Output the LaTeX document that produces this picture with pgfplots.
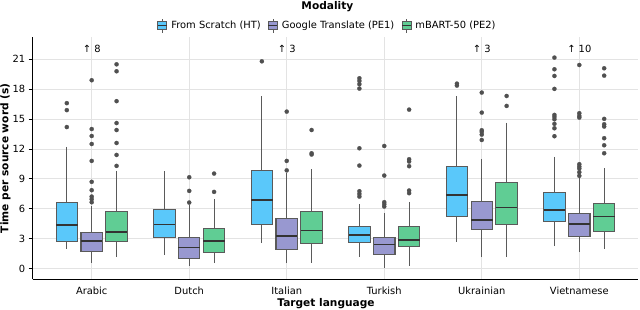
\documentclass[border=0pt]{standalone}
\usepackage{pgfplots}
\pgfplotsset{compat=1.18}
\usepgfplotslibrary{statistics}
\usepackage{fontspec}
\setmainfont{DejaVu Sans}
\definecolor{htcol}{HTML}{5AC8FA}
\definecolor{peone}{HTML}{9898D0}
\definecolor{petwo}{HTML}{60CD94}
\definecolor{edgec}{HTML}{5A5A5A}
\definecolor{medc}{HTML}{333333}
\definecolor{outc}{HTML}{505050}
\definecolor{gridc}{HTML}{E3E3E3}
\newcommand{\tickfont}{\fontsize{9.9}{11}\selectfont}
\newcommand{\labfont}{\fontsize{10.6}{12}\selectfont\bfseries}
\pgfplotsset{
  bx/.style={boxplot/draw direction=y, boxplot/box extend=0.22, boxplot/whisker extend=0,
    draw=edgec, line width=1.1pt, solid, mark=*, mark size=2.1pt,
    mark options={draw=outc, fill=outc, line width=0.2pt},
    boxplot/every median/.style={draw=medc, line width=1.5pt}},
  ht/.style={bx, fill=htcol},
  pa/.style={bx, fill=peone},
  pb/.style={bx, fill=petwo},
  bp/.style n args={6}{boxplot prepared={draw position=#1, lower whisker=#2, lower quartile=#3, median=#4, upper quartile=#5, upper whisker=#6}},
}
\newcommand{\legicon}[1]{\addlegendimage{legend image code/.code={
  \draw[line width=0.8pt, draw=edgec] (4.5pt,-7pt) -- (4.5pt,7pt);
  \draw[line width=0.8pt, draw=edgec, fill=#1] (0pt,-4pt) rectangle (9pt,4pt);
  \draw[line width=1.1pt, draw=medc] (0pt,0pt) -- (9pt,0pt);}}}
\begin{document}
\begin{tikzpicture}
\begin{axis}[
  scale only axis, width=605.1pt, height=242.1pt,
  xmin=-0.605, xmax=5.6, ymin=-1.084, ymax=23.22,
  clip=false,
  axis x line*=bottom, axis y line*=left,
  axis line style={black, line width=1.2pt},
  xtick={0,1,2,3,4,5},
  xticklabels={Arabic,Dutch,Italian,Turkish,Ukrainian,Vietnamese},
  ytick={0,3,6,9,12,15,18,21},
  tick align=outside, major tick length=4pt,
  xtick style={draw=none}, ytick style={black, line width=0.8pt},
  grid=major, major grid style={draw=gridc, line width=0.8pt},
  tick label style={font=\tickfont},
  /pgf/number format/assume math mode=true,
  xlabel={Target language}, ylabel={Time per source word (s)},
  label style={font=\labfont},
  xlabel style={at={([yshift=-24.7pt]axis description cs:0.4847,0)}, anchor=center},
  ylabel style={at={([xshift=-27.2pt]axis description cs:0,0.5)}, anchor=center},
  legend columns=3,
  legend style={at={([yshift=11.5pt]axis description cs:0.487,1)}, anchor=center, draw=none, fill=none, font=\tickfont,
    /tikz/every odd column/.append style={column sep=2pt},
    /tikz/every even column/.append style={column sep=5pt}},
]
\legicon{htcol}\addlegendentry{From Scratch (HT)}
\legicon{peone}\addlegendentry{Google Translate (PE1)}
\legicon{petwo}\addlegendentry{mBART-50 (PE2)}
% Arabic
\addplot[ht, bp={-0.255}{2.0}{2.74}{4.38}{6.62}{12.24}] coordinates {(0,14.2)(0,15.9)(0,16.6)};
\addplot[pa, bp={0}{0.54}{1.67}{2.78}{3.61}{6.3}] coordinates {(0,6.65)(0,6.96)(0,7.22)(0,7.86)(0,8.7)(0,10.8)(0,12.5)(0,13.3)(0,14.0)(0,18.9)};
\addplot[pb, bp={0.255}{1.14}{2.74}{3.65}{5.72}{9.83}] coordinates {(0,10.3)(0,11.4)(0,12.6)(0,13.9)(0,14.6)(0,16.8)(0,19.8)(0,20.5)};
% Dutch
\addplot[ht, bp={0.745}{1.34}{3.11}{4.41}{5.95}{9.77}] coordinates {};
\addplot[pa, bp={1}{0.3}{1.0}{2.1}{3.14}{6.4}] coordinates {(0,6.62)(0,7.79)(0,9.16)};
\addplot[pb, bp={1.255}{0.54}{1.64}{2.74}{4.01}{6.96}] coordinates {(0,7.69)(0,9.53)};
% Italian
\addplot[ht, bp={1.745}{2.54}{4.45}{6.86}{9.8}{17.3}] coordinates {(0,20.8)};
\addplot[pa, bp={2}{0.54}{1.87}{3.24}{5.05}{9.6}] coordinates {(0,9.85)(0,10.8)(0,15.75)};
\addplot[pb, bp={2.255}{0.6}{2.51}{3.81}{5.72}{9.97}] coordinates {(0,11.44)(0,11.57)(0,13.9)};
% Turkish
\addplot[ht, bp={2.745}{1.2}{2.61}{3.38}{4.21}{6.49}] coordinates {(0,7.22)(0,7.49)(0,7.76)(0,10.33)(0,12.07)(0,18.06)(0,18.5)(0,18.83)(0,19.1)};
\addplot[pa, bp={3}{0.03}{1.37}{2.41}{3.14}{5.62}] coordinates {(0,6.22)(0,6.45)(0,6.66)(0,9.33)(0,12.3)};
\addplot[pb, bp={3.255}{0.3}{2.21}{2.88}{4.21}{6.69}] coordinates {(0,7.56)(0,7.83)(0,10.27)(0,10.74)(0,10.97)(0,15.95)};
% Ukrainian
\addplot[ht, bp={3.745}{2.68}{5.22}{7.36}{10.23}{17.32}] coordinates {(0,18.36)(0,18.56)};
\addplot[pa, bp={4}{1.14}{3.88}{4.88}{6.72}{11.0}] coordinates {(0,12.9)(0,13.44)(0,13.71)(0,13.88)(0,15.65)(0,17.66)};
\addplot[pb, bp={4.255}{1.14}{4.41}{6.12}{8.6}{14.65}] coordinates {(0,16.32)(0,17.32)};
% Vietnamese
\addplot[ht, bp={4.745}{2.21}{4.68}{5.85}{7.63}{11.24}] coordinates {(0,13.28)(0,14.08)(0,14.52)(0,14.98)(0,15.22)(0,15.42)(0,18.03)(0,19.33)(0,20.0)(0,21.17)};
\addplot[pa, bp={5}{1.64}{3.18}{4.45}{5.55}{9.1}] coordinates {(0,9.3)(0,9.67)(0,10.03)(0,10.23)(0,10.47)(0,15.15)(0,15.32)(0,15.59)(0,20.43)};
\addplot[pb, bp={5.255}{2.0}{3.68}{5.22}{6.52}{10.07}] coordinates {(0,11.57)(0,12.37)(0,13.08)(0,14.25)(0,14.48)(0,15.02)(0,19.36)(0,20.1)};
\node[font=\tickfont] at (axis cs:0,22.08) {↑ 8};
\node[font=\tickfont] at (axis cs:2,22.08) {↑ 3};
\node[font=\tickfont] at (axis cs:4,22.08) {↑ 3};
\node[font=\tickfont] at (axis cs:5,22.08) {↑ 10};
\node[font=\labfont] at ([yshift=30.2pt]axis description cs:0.487,1) {Modality};
\coordinate (sw) at (axis description cs:0,0);
\end{axis}
\pgfresetboundingbox
\path[use as bounding box] ([shift={(-32.7pt,-30.7pt)}]sw) rectangle ++(640pt,310pt);
\end{tikzpicture}
\end{document}
